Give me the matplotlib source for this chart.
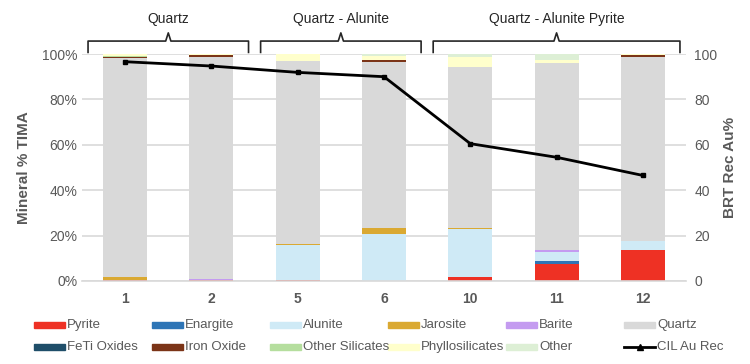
# Mineralogy (TIMA) stacked bars with CIL gold recovery on a second axis
import numpy as np
import matplotlib
matplotlib.use('Agg')
from matplotlib import pyplot as plt
from matplotlib.patches import Rectangle
from matplotlib.lines import Line2D

samples = ['1', '2', '5', '6', '10', '11', '12']

minerals = ['Pyrite', 'Enargite', 'Alunite', 'Jarosite', 'Barite', 'Quartz',
            'FeTi Oxides', 'Iron Oxide', 'Other Silicates', 'Phyllosilicates', 'Other']
colors = ['#EE3124', '#2E75B6', '#CFEAF6', '#DAA932', '#C49BF0', '#D9D9D9',
          '#1F4E69', '#7B3417', '#B5DE9E', '#FFFFCC', '#DDEFD5']

pyrite      = [0.5, 0.3, 0.3, 0.2, 1.8, 7.6, 13.5]
enargite    = [0.0, 0.0, 0.0, 0.0, 0.0, 1.0, 0.0]
alunite     = [0.0, 0.0, 15.4, 20.5, 20.9, 4.0, 4.0]
jarosite    = [1.2, 0.0, 0.6, 2.6, 0.5, 0.0, 0.0]
barite      = [0.2, 0.8, 0.0, 0.0, 0.0, 0.9, 0.0]
quartz      = [96.2, 97.7, 80.6, 73.3, 70.9, 82.7, 81.3]
feti_oxides = [0.0, 0.0, 0.0, 0.0, 0.0, 0.0, 0.0]
iron_oxide  = [0.5, 0.7, 0.0, 0.6, 0.0, 0.0, 0.7]
other_sil   = [0.5, 0.0, 0.0, 0.0, 0.0, 0.0, 0.0]
phyllo      = [0.9, 0.5, 3.1, 1.8, 4.4, 1.2, 0.5]
other       = [0.0, 0.0, 0.0, 1.0, 1.5, 2.6, 0.0]

cil_au_rec = [96.6, 94.7, 91.9, 90.0, 60.5, 54.5, 46.5]

groups = ['Quartz', 'Quartz - Alunite', 'Quartz - Alunite Pyrite']
group_bars = [(0, 1), (2, 3), (4, 6)]

series = [pyrite, enargite, alunite, jarosite, barite, quartz,
          feti_oxides, iron_oxide, other_sil, phyllo, other]

plt.rcParams['font.family'] = ['Liberation Sans Narrow', 'Liberation Sans', 'DejaVu Sans']
grey = '#595959'

fig = plt.figure(figsize=(7.5, 3.64), dpi=100)
ax = fig.add_axes([82/750, 1-281/364, 604/750, 227/364])
x = np.arange(len(samples))

bottom = np.zeros(len(samples))
for vals, c in zip(series, colors):
    ax.bar(x, vals, 0.51, bottom=bottom, color=c, zorder=2)
    bottom += np.array(vals)

ax.set_xlim(-0.5, len(samples) - 0.5)
ax.set_ylim(0, 100)
ax.set_yticks(np.arange(0, 101, 20))
ax.set_yticklabels(['%d%%' % v for v in range(0, 101, 20)])
ax.set_xticks(x)
ax.set_xticklabels(samples, fontweight='bold', fontsize=10.5, color='#404040')
ax.grid(axis='y', color='#D9D9D9', lw=1.2, zorder=0)
for s in ['top', 'right', 'left']:
    ax.spines[s].set_visible(False)
ax.spines['bottom'].set_color('#D9D9D9')
ax.spines['bottom'].set_linewidth(1.2)
ax.tick_params(axis='both', length=0, colors=grey, labelsize=10)
ax.tick_params(axis='x', pad=8)
ax.set_ylabel('Mineral % TIMA', fontweight='bold', color=grey, fontsize=11, labelpad=8)

ax2 = ax.twinx()
ax2.plot(x, cil_au_rec, color='black', lw=2, marker='s', ms=3.5, zorder=5)
ax2.set_ylim(0, 100)
ax2.set_yticks(np.arange(0, 101, 20))
for s in ax2.spines.values():
    s.set_visible(False)
ax2.tick_params(axis='y', length=0, colors=grey, labelsize=10, pad=6)
ax2.set_ylabel('BRT Rec Au%', fontweight='bold', color=grey, fontsize=11, labelpad=4)

# group brackets above the bars
tr = ax.get_xaxis_transform()
for name, (a, b) in zip(groups, group_bars):
    x0, x1 = a - 0.43, b + 0.43
    xc = (x0 + x1) / 2
    ax.plot([x0, x0, xc - 0.03, xc, xc + 0.03, x1, x1],
            [1.007, 1.057, 1.057, 1.093, 1.057, 1.057, 1.007],
            transform=tr, color='#262626', lw=1.2, clip_on=False,
            solid_joinstyle='round')
    ax.text(xc, 1.155, name, transform=tr, ha='center', va='center',
            fontsize=10, color='#262626')

# legend laid out as a 6 x 2 grid
labels = minerals[:6] + minerals[6:] + ['CIL Au Rec']
for i, lab in enumerate(labels):
    col, row = i % 6, i // 6
    lx = 34 + col * 118
    ly = 325 + row * 22
    if lab == 'CIL Au Rec':
        fig.add_artist(Line2D([lx/750, (lx+31)/750], [1-ly/364, 1-ly/364],
                              color='black', lw=2))
        fig.add_artist(Line2D([(lx+15.5)/750], [1-ly/364], color='black',
                              marker='^', ms=4, lw=0))
    else:
        fig.add_artist(Rectangle((lx/750, 1-(ly+3)/364), 31/750, 6/364,
                                 color=colors[i], transform=fig.transFigure))
    fig.text((lx+33)/750, 1-ly/364, lab, va='center', ha='left',
             fontsize=9.5, color=grey)

fig.savefig('out.png', dpi=100)
